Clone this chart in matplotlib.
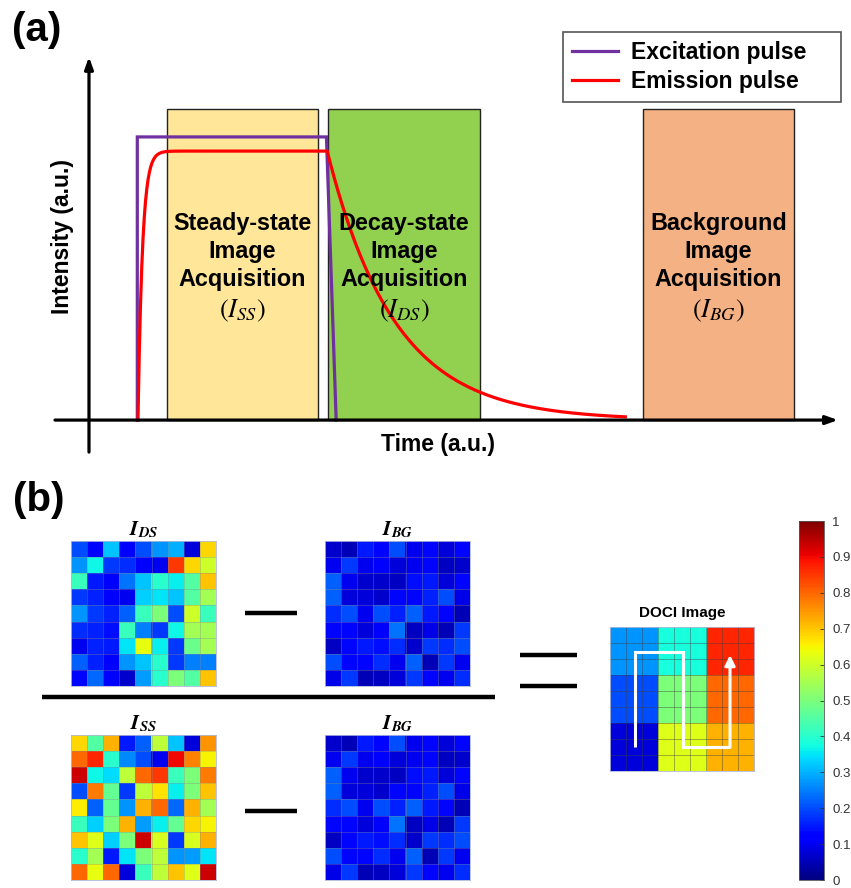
import numpy as np
import matplotlib
matplotlib.use("Agg")
import matplotlib.pyplot as plt
from matplotlib.lines import Line2D
from matplotlib.patches import Rectangle
from matplotlib.cm import ScalarMappable
from matplotlib.colors import Normalize

plt.rcParams['font.family'] = ['Liberation Sans', 'DejaVu Sans']
plt.rcParams['mathtext.fontset'] = 'stix'

# ---------------- data: panel (a) ----------------
excitation_t = [6.45, 6.45, 31.7, 33.0]
excitation_I = [0.0, 1.0, 1.0, 0.0]
emission_on = 6.54
emission_off = 31.8
emission_level = 0.95
emission_rise_tau = 0.6
emission_decay_tau = 9.0
emission_end = 71.6
ss_window = (10.4, 30.6)
ds_window = (31.9, 52.2)
bg_window = (74.0, 94.1)
window_top = 1.10
window_colors = ['#FFE699', '#92D050', '#F4B183']
window_labels = [['Steady-state', 'Image', 'Acquisition'],
                 ['Decay-state', 'Image', 'Acquisition'],
                 ['Background', 'Image', 'Acquisition']]
window_math = [r'$(I_{SS})$', r'$(I_{DS})$', r'$(I_{BG})$']

# ---------------- data: panel (b) ----------------
I_DS = np.array([
    [0.20, 0.13, 0.32, 0.12, 0.20, 0.27, 0.30, 0.08, 0.68],
    [0.27, 0.37, 0.18, 0.17, 0.12, 0.10, 0.85, 0.68, 0.60],
    [0.42, 0.15, 0.12, 0.24, 0.32, 0.40, 0.36, 0.45, 0.70],
    [0.18, 0.16, 0.12, 0.10, 0.33, 0.35, 0.32, 0.45, 0.55],
    [0.27, 0.18, 0.16, 0.22, 0.42, 0.50, 0.20, 0.60, 0.42],
    [0.17, 0.16, 0.14, 0.42, 0.25, 0.18, 0.37, 0.55, 0.55],
    [0.10, 0.16, 0.15, 0.35, 0.63, 0.36, 0.18, 0.48, 0.55],
    [0.22, 0.16, 0.12, 0.27, 0.32, 0.40, 0.18, 0.25, 0.25],
    [0.13, 0.23, 0.12, 0.07, 0.28, 0.40, 0.50, 0.45, 0.70],
])
I_BG = np.array([
    [0.07, 0.05, 0.15, 0.13, 0.20, 0.10, 0.13, 0.08, 0.13],
    [0.10, 0.18, 0.10, 0.12, 0.08, 0.10, 0.13, 0.06, 0.07],
    [0.22, 0.10, 0.07, 0.07, 0.06, 0.14, 0.15, 0.08, 0.13],
    [0.22, 0.08, 0.08, 0.07, 0.13, 0.13, 0.16, 0.20, 0.09],
    [0.17, 0.20, 0.10, 0.20, 0.16, 0.22, 0.15, 0.13, 0.05],
    [0.13, 0.13, 0.08, 0.12, 0.24, 0.06, 0.09, 0.05, 0.18],
    [0.06, 0.13, 0.15, 0.14, 0.17, 0.07, 0.18, 0.17, 0.20],
    [0.20, 0.13, 0.13, 0.17, 0.10, 0.22, 0.05, 0.18, 0.10],
    [0.09, 0.18, 0.05, 0.06, 0.08, 0.18, 0.13, 0.10, 0.17],
])
I_SS = np.array([
    [0.68, 0.45, 0.72, 0.15, 0.22, 0.58, 0.32, 0.08, 0.75],
    [0.80, 0.87, 0.40, 0.26, 0.20, 0.10, 0.90, 0.77, 0.65],
    [0.93, 0.37, 0.34, 0.58, 0.80, 0.85, 0.42, 0.50, 0.78],
    [0.20, 0.78, 0.47, 0.18, 0.58, 0.67, 0.36, 0.50, 0.70],
    [0.66, 0.22, 0.47, 0.27, 0.72, 0.80, 0.23, 0.72, 0.55],
    [0.42, 0.33, 0.50, 0.72, 0.28, 0.36, 0.47, 0.68, 0.65],
    [0.70, 0.62, 0.33, 0.50, 0.93, 0.61, 0.18, 0.61, 0.72],
    [0.40, 0.55, 0.15, 0.35, 0.50, 0.58, 0.27, 0.28, 0.35],
    [0.80, 0.63, 0.80, 0.08, 0.42, 0.58, 0.70, 0.62, 0.93],
])
DOCI_blocks = np.array([
    [0.27, 0.38, 0.87],
    [0.20, 0.50, 0.80],
    [0.08, 0.62, 0.72],
])
DOCI = np.kron(DOCI_blocks, np.ones((3, 3)))
scan_x = [1.06, 1.06, 4.06, 4.06, 7.0, 7.0]
scan_y = [7.0, 1.06, 1.06, 7.0, 7.0, 1.25]
cbar_ticks = [0, 0.1, 0.2, 0.3, 0.4, 0.5, 0.6, 0.7, 0.8, 0.9, 1]
cbar_labels = ['0', '0.1', '0.2', '0.3', '0.4', '0.5', '0.6', '0.7', '0.8', '0.9', '1']

W, H = 851, 888
fig = plt.figure(figsize=(W / 100, H / 100), dpi=100)


def add_ax(x0, y0, x1, y1):
    return fig.add_axes([x0 / W, 1 - y1 / H, (x1 - x0) / W, (y1 - y0) / H])


def hline(x0, x1, y, lw=3.2):
    fig.add_artist(Line2D([x0 / W, x1 / W], [1 - y / H, 1 - y / H],
                          transform=fig.transFigure, color='black', lw=lw,
                          solid_capstyle='butt'))


# ---------------- panel (a) ----------------
ax = add_ax(40, 50, 845, 460)
ax.set_xlim(-6.54, 100.93)
ax.set_ylim(-0.141, 1.307)
ax.axis('off')

for (t0, t1), col in zip([ss_window, ds_window, bg_window], window_colors):
    ax.add_patch(Rectangle((t0, 0), t1 - t0, window_top, facecolor=col,
                           edgecolor='#222222', lw=1.0, zorder=1))

ex_line, = ax.plot(excitation_t, excitation_I, color='#7030A0', lw=2.3, zorder=3,
                   solid_joinstyle='miter', label='Excitation pulse')
t_rise = np.linspace(emission_on, emission_off, 300)
I_rise = emission_level * (1 - np.exp(-(t_rise - emission_on) / emission_rise_tau))
t_dec = np.linspace(emission_off, emission_end, 400)
I_dec = I_rise[-1] * np.exp(-(t_dec - emission_off) / emission_decay_tau)
em_line, = ax.plot(np.r_[emission_on, t_rise, t_dec], np.r_[0, I_rise, I_dec],
                   color='#FF0000', lw=2.3, zorder=4, label='Emission pulse')

# axes arrows
ax.annotate('', xy=(100, 0), xytext=(-4.54, 0),
            arrowprops=dict(arrowstyle='-|>,head_length=0.7,head_width=0.25', lw=2.3,
                            color='black', shrinkA=0, shrinkB=0), zorder=5)
ax.annotate('', xy=(0, 1.283), xytext=(0, -0.113),
            arrowprops=dict(arrowstyle='-|>,head_length=0.7,head_width=0.25', lw=2.3,
                            color='black', shrinkA=0, shrinkB=0), zorder=5)

line_y = [0.696, 0.594, 0.495]
for (t0, t1), labs, mlab in zip([ss_window, ds_window, bg_window], window_labels, window_math):
    xc = (t0 + t1) / 2
    for lab, yy in zip(labs, line_y):
        ax.text(xc, yy, lab, ha='center', va='center', fontsize=16.8, fontweight='bold',
                zorder=6)
    ax.text(xc, 0.385, mlab, ha='center', va='center', fontsize=19, zorder=6)

fig.text(63 / W, 1 - 237 / H, 'Intensity (a.u.)', rotation=90, ha='center', va='center',
         fontsize=16.5, fontweight='bold')
fig.text(438 / W, 1 - 444 / H, 'Time (a.u.)', ha='center', va='center',
         fontsize=16.5, fontweight='bold')
fig.text(37 / W, 1 - 30 / H, '(a)', ha='center', va='center', fontsize=29, fontweight='bold')
fig.text(39 / W, 1 - 500 / H, '(b)', ha='center', va='center', fontsize=29, fontweight='bold')

leg = ax.legend(handles=[ex_line, em_line], loc='upper left', mode='expand',
                bbox_to_anchor=(563 / W, 1 - 103 / H, (841 - 563) / W, 71 / H),
                bbox_transform=fig.transFigure,
                prop=dict(weight='bold', size=16.5), fancybox=False, framealpha=1,
                edgecolor='#555555', borderaxespad=0, handlelength=2.0,
                handletextpad=0.55, labelspacing=0.25, borderpad=0.4)
leg.get_frame().set_linewidth(1.2)

# ---------------- panel (b) ----------------
cmap = plt.get_cmap('jet')


def heat(x0, y0, x1, y1, data, title, grid_color='#8a8a8a', grid_alpha=0.5):
    a = add_ax(x0, y0, x1, y1)
    a.imshow(data, cmap=cmap, vmin=0, vmax=1, interpolation='nearest', aspect='auto')
    n = data.shape[0]
    for k in range(1, n):
        a.axhline(k - 0.5, color=grid_color, lw=0.5, alpha=grid_alpha)
        a.axvline(k - 0.5, color=grid_color, lw=0.5, alpha=grid_alpha)
    a.set_xticks([])
    a.set_yticks([])
    for s in a.spines.values():
        s.set_color('#b0b8d8')
        s.set_linewidth(0.6)
    if title:
        a.set_title(title, fontsize=15, pad=4)
    return a


heat(71, 541, 216, 686, I_DS, r'$\mathbfit{I}_{\mathbfit{DS}}$')
heat(325, 541, 470, 686, I_BG, r'$\mathbfit{I}_{\mathbfit{BG}}$')
heat(71, 735, 216, 880, I_SS, r'$\mathbfit{I}_{\mathbfit{SS}}$')
heat(325, 735, 470, 880, I_BG, r'$\mathbfit{I}_{\mathbfit{BG}}$')

ad = heat(610, 627, 754, 771, DOCI, None, grid_color='#404040', grid_alpha=0.6)
ad.plot(scan_x[:-1], scan_y[:-1], color='white', lw=2.2, solid_joinstyle='miter',
        solid_capstyle='butt')
ad.annotate('', xy=(scan_x[-1], scan_y[-1]), xytext=(scan_x[-2], scan_y[-2]),
            arrowprops=dict(arrowstyle='-|>,head_length=0.6,head_width=0.3', lw=2.2,
                            color='white', shrinkA=0, shrinkB=0))
fig.text(682 / W, 1 - 613 / H, 'DOCI Image', ha='center', va='center', fontsize=11,
         fontweight='bold')

# operators
hline(245, 297, 613)
hline(245, 297, 811)
hline(42, 495, 697)
hline(520, 577, 655)
hline(520, 577, 686)

# colorbar
cax = add_ax(799, 521, 824, 880)
cb = fig.colorbar(ScalarMappable(norm=Normalize(0, 1), cmap=cmap), cax=cax, ticks=cbar_ticks)
cb.ax.set_yticklabels(cbar_labels)
cb.ax.tick_params(direction='in', length=3, width=0.6, labelsize=9.5, labelcolor='#333333',
                  color='#333333', pad=6)
cb.outline.set_linewidth(0.6)
cb.outline.set_edgecolor('#555555')

fig.savefig('out.png', dpi=100)
